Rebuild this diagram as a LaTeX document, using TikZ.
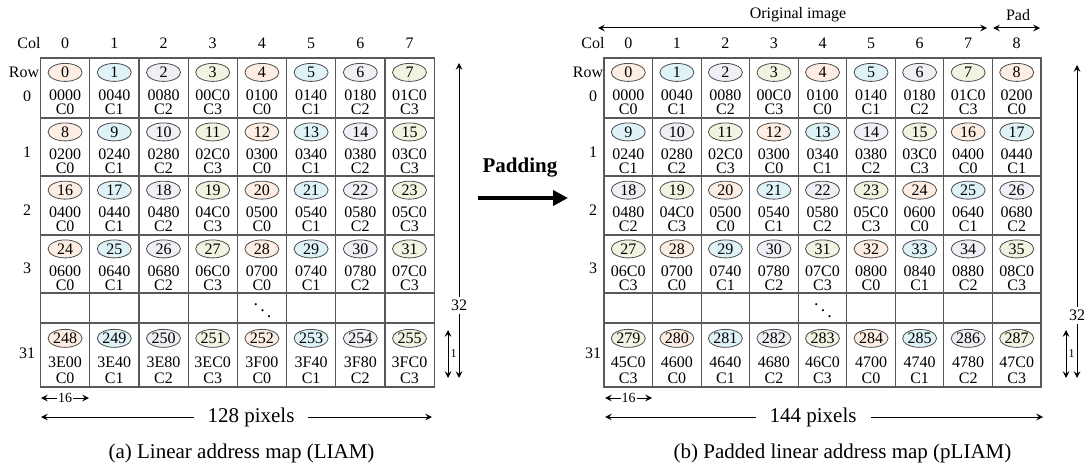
\documentclass[tikz,border=0pt]{standalone}
\usepackage{fontspec}
\setmainfont{Liberation Serif}
\usetikzlibrary{shapes.geometric,arrows.meta}

\definecolor{cc0}{HTML}{FDEDE2}
\definecolor{cc1}{HTML}{DEF2F7}
\definecolor{cc2}{HTML}{EFEFF6}
\definecolor{cc3}{HTML}{F2F4E2}

% address = 0x40 * index, written with four hex digits
\newcommand{\hexaddr}[1]{%
  \pgfmathtruncatemacro\q{4*#1}%
  \pgfmathparse{Hex(\q)}\edef\hx{\pgfmathresult}%
  \ifnum\q<16 \edef\addr{00\hx0}\else\ifnum\q<256 \edef\addr{0\hx0}\else\edef\addr{\hx0}\fi\fi}

\begin{document}
\begin{tikzpicture}[x=0.5pt, y=-0.5pt,
    idx/.style={ellipse, draw=black!70, minimum width=17pt, minimum height=9pt, inner sep=0pt, font=\fontsize{8}{9}\selectfont},
    lbl/.style={inner sep=0pt, font=\fontsize{8}{9}\selectfont},
    grid/.style={draw=black!65, line width=0.6pt},
    dim/.style={<->, >=stealth, line width=0.5pt},
    gap/.style={fill=white, inner sep=1.5pt, font=\fontsize{8}{9}\selectfont},
    big/.style={font=\fontsize{10.5}{12}\selectfont},
    dots/.style={inner sep=0pt, font=\fontsize{9}{10}\selectfont},
    padarrow/.style={-{Triangle[length=7.5pt,width=7.5pt]}, line width=2pt}
  ]
  \useasboundingbox (0,0) rectangle (1090,470);

  % (a) linear address map
  \node[lbl] (lcol) at (29,43) {Col};
  \node[lbl] (lrow) at (24,72) {Row};
  \foreach \c in {0,...,7}
    \node[lbl] (lc\c) at (40.5+49.2*\c+24.6,43) {\c};
  \foreach \r/\y/\h/\ry in {0/58/60/96, 1/118/58/152, 2/176/59/210, 3/235/58/268, 31/323/64/353} {
    \node[lbl] (lr\r) at (27,\ry) {\r};
    \foreach \c in {0,...,7} {
      \pgfmathtruncatemacro\n{8*\r+\c}
      \pgfmathtruncatemacro\k{mod(\n,4)}
      \hexaddr{\n}
      \pgfmathsetmacro\cx{40.5+49.2*\c+24.6}
      \draw[grid] (40.5+49.2*\c,\y) rectangle ++(49.2,\h);
      \node[idx, fill=cc\k] (l\n) at (\cx,\y+0.24*\h) {\n};
      \node[lbl] (la\n) at (\cx,\y+0.62*\h) {\addr};
      \node[lbl] (lk\n) at (\cx,\y+0.86*\h) {C\k};
    }
  }
  \foreach \c in {0,...,7}
    \draw[grid] (40.5+49.2*\c,293) rectangle ++(49.2,30);
  \node[dots] (ldots) at (262.5,305) {$\ddots$};

  \coordinate (l32a) at (459,63);
  \coordinate (l32b) at (459,378);
  \coordinate (l1a) at (448,330);
  \coordinate (l1b) at (448,378);
  \coordinate (l16a) at (41,398);
  \coordinate (l16b) at (89,398);
  \coordinate (lwa) at (41,417);
  \coordinate (lwb) at (432,417);
  \draw[dim] (l32a) -- node[pos=0.77, gap] {32} (l32b);
  \draw[dim] (l1a) -- node[right, inner sep=1pt, font=\fontsize{6}{7}\selectfont] {1} (l1b);
  \draw[dim] (l16a) -- node[gap, inner sep=0.5pt, font=\fontsize{7}{8}\selectfont] {16} (l16b);
  \draw[dim] (lwa) -- node[pos=0.537, fill=white, inner xsep=7pt, big] {128 pixels} (lwb);
  \node[big] (lcap) at (241.5,453) {(a) Linear address map (LIAM)};

  % padding step
  \node[big] (padtxt) at (520,168) {\textbf{Padding}};
  \coordinate (pa) at (478,198);
  \coordinate (pb) at (568,198);
  \draw[padarrow] (pa) -- (pb);

  % (b) padded linear address map
  \node[lbl] (rcol) at (593,43) {Col};
  \node[lbl] (rrow) at (588,72) {Row};
  \foreach \c in {0,...,8}
    \node[lbl] (rc\c) at (604+48.55*\c+24.3,43) {\c};
  \foreach \r/\y/\h/\ry in {0/58/60/96, 1/118/58/152, 2/176/59/210, 3/235/58/268, 31/323/64/353} {
    \node[lbl] (rr\r) at (593,\ry) {\r};
    \foreach \c in {0,...,8} {
      \pgfmathtruncatemacro\n{9*\r+\c}
      \pgfmathtruncatemacro\k{mod(\n,4)}
      \hexaddr{\n}
      \pgfmathsetmacro\cx{604+48.55*\c+24.3}
      \draw[grid] (604+48.55*\c,\y) rectangle ++(48.55,\h);
      \node[idx, fill=cc\k] (r\n) at (\cx,\y+0.24*\h) {\n};
      \node[lbl] (ra\n) at (\cx,\y+0.62*\h) {\addr};
      \node[lbl] (rk\n) at (\cx,\y+0.86*\h) {C\k};
    }
  }
  \foreach \c in {0,...,8}
    \draw[grid] (604+48.55*\c,293) rectangle ++(48.55,30);
  \node[dots] (rdots) at (823,305) {$\ddots$};

  \coordinate (roa) at (598,28);
  \coordinate (rob) at (987,28);
  \coordinate (rpa) at (993,28);
  \coordinate (rpb) at (1040,28);
  \node[lbl] (origtxt) at (798,15) {Original image};
  \node[lbl] (padlbl) at (1018,15) {Pad};
  \draw[dim] (roa) -- (rob);
  \draw[dim] (rpa) -- (rpb);

  \coordinate (r32a) at (1077,65);
  \coordinate (r32b) at (1077,378);
  \coordinate (r1a) at (1066,330);
  \coordinate (r1b) at (1066,378);
  \coordinate (r16a) at (605,398);
  \coordinate (r16b) at (652,398);
  \coordinate (rwa) at (605,417);
  \coordinate (rwb) at (1043,417);
  \draw[dim] (r32a) -- node[pos=0.8, gap] {32} (r32b);
  \draw[dim] (r1a) -- node[right, inner sep=1pt, font=\fontsize{6}{7}\selectfont] {1} (r1b);
  \draw[dim] (r16a) -- node[gap, inner sep=0.5pt, font=\fontsize{7}{8}\selectfont] {16} (r16b);
  \draw[dim] (rwa) -- node[pos=0.475, fill=white, inner xsep=7pt, big] {144 pixels} (rwb);
  \node[big] (rcap) at (842.5,453) {(b) Padded linear address map (pLIAM)};
\end{tikzpicture}
\end{document}
